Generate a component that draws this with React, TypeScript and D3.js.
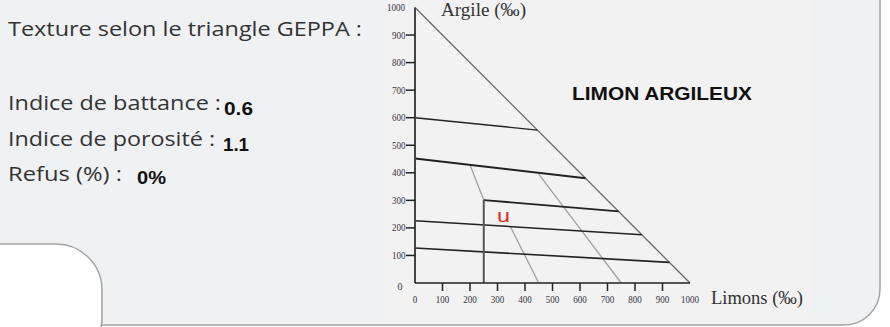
import React from "react";
import * as d3 from "d3";

// ---- data ----
const axisTicks = [0, 100, 200, 300, 400, 500, 600, 700, 800, 900, 1000];
// texture-class boundary lines, points as [limons ‰, argile ‰]
const lineA600: [number, number][] = [[0, 600], [445, 555]];
const lineA450: [number, number][] = [[0, 452], [620, 380]];
const lineA300: [number, number][] = [[250, 301], [740, 260]];
const lineA225: [number, number][] = [[0, 226], [825, 175]];
const lineA127: [number, number][] = [[0, 127], [925, 75]];
const lineL250: [number, number][] = [[250, 0], [250, 301]];
const diagUpper: [number, number][] = [[200, 429], [250, 301]];
const diagMid: [number, number][] = [[450, 395], [750, 0]];
const diagLow: [number, number][] = [[347, 204], [450, 0]];
const hypotenuse: [number, number][] = [[0, 1000], [1000, 0]];
const sampleLabel = "u";
const samplePos: [number, number] = [322, 222];
const textureClass = "LIMON ARGILEUX";
const infoLabels = ["Indice de battance :", "Indice de porosité :", "Refus (%) :"];
const infoValues = ["0.6", "1.1", "0%"];

export default function App() {
  const W = 890, H = 327;
  const x = d3.scaleLinear().domain([0, 1000]).range([415, 690]);
  const y = d3.scaleLinear().domain([0, 1000]).range([283, 7.5]);
  const line = d3.line<[number, number]>().x(d => x(d[0])).y(d => y(d[1]));

  const dark = [
    { d: lineA600, w: 1.4 },
    { d: lineA450, w: 2 },
    { d: lineA300, w: 1.8 },
    { d: lineA225, w: 1.5 },
    { d: lineA127, w: 1.6 },
  ];
  const grays = [diagUpper, diagMid, diagLow];

  const sans = "'Open Sans', sans-serif";
  const serif = "'Liberation Serif', serif";
  const labelLens = [213, 207, 114];
  const valueXs = [224, 223, 137];
  const valueLens = [29, 26, 29];
  const labelBaselines = [110, 146, 181];
  const valueBaselines = [115, 151, 184];
  const tickLen = (t: number) => (t >= 1000 ? 18 : t >= 100 ? 13.5 : 4.5);

  return (
    <svg width={W} height={H} style={{ position: "absolute", left: 0, top: 0, display: "block" }}>
      <rect x={0} y={0} width={W} height={H} fill="#ffffff" />
      <rect x={-40} y={-40} width={920} height={365} rx={36} ry={36} fill="#f0f1f3" stroke="#a3a3a3" strokeWidth={1.5} />
      <rect x={383} y={0} width={428} height={318} fill="#f2f2f2" />
      <rect x={-60} y={244} width={162} height={120} rx={46} ry={46} fill="#ffffff" stroke="#a3a3a3" strokeWidth={1.5} />

      {/* left info text */}
      <text x={8} y={36} fontFamily={sans} fontSize={20.5} fill="#333" textLength={354} lengthAdjust="spacingAndGlyphs">Texture selon le triangle GEPPA :</text>
      {infoLabels.map((t, i) => (
        <text key={t} x={8} y={labelBaselines[i]} fontFamily={sans} fontSize={20.5} fill="#333" textLength={labelLens[i]} lengthAdjust="spacingAndGlyphs">{t}</text>
      ))}
      {infoValues.map((t, i) => (
        <text key={i} x={valueXs[i]} y={valueBaselines[i]} fontFamily="'Liberation Sans', Arial, sans-serif" fontWeight="bold" fontSize={18} fill="#111" textLength={valueLens[i]} lengthAdjust="spacingAndGlyphs">{t}</text>
      ))}

      {/* triangle */}
      <path d={line(hypotenuse) || ""} stroke="#666" strokeWidth={1.3} fill="none" />
      {grays.map((g, i) => (
        <path key={i} d={line(g) || ""} stroke="#a0a0a0" strokeWidth={1.3} fill="none" />
      ))}
      {dark.map((l, i) => (
        <path key={i} d={line(l.d) || ""} stroke="#222" strokeWidth={l.w} fill="none" />
      ))}
      <path d={line(lineL250) || ""} stroke="#555" strokeWidth={2} fill="none" />

      {/* axes */}
      <line x1={x(0)} x2={x(0)} y1={y(0)} y2={y(1000)} stroke="#444" strokeWidth={2} />
      <line x1={x(0)} x2={x(1000)} y1={y(0)} y2={y(0)} stroke="#222" strokeWidth={1.6} />
      {axisTicks.filter(t => t > 0 && t < 1000).map(t => (
        <line key={"yt" + t} x1={x(0) - 9} x2={x(0)} y1={y(t)} y2={y(t)} stroke="#222" strokeWidth={1.5} />
      ))}
      {axisTicks.filter(t => t > 0 && t < 1000).map(t => (
        <line key={"xt" + t} x1={x(t)} x2={x(t)} y1={y(0)} y2={y(0) + 8} stroke="#222" strokeWidth={1.5} />
      ))}
      {axisTicks.filter(t => t > 0).map(t => (
        <text key={"yl" + t} x={x(0) - 23 + (t >= 1000 ? -5 : 0)} y={y(t) + 3.5} fontFamily={serif} fontSize={10} fill="#334" textLength={tickLen(t)} lengthAdjust="spacingAndGlyphs">{t}</text>
      ))}
      <text x={400} y={290} textAnchor="middle" fontFamily={serif} fontSize={10} fill="#334">0</text>
      {axisTicks.map(t => (
        <text key={"xl" + t} x={x(t) - tickLen(t) / 2} y={303} fontFamily={serif} fontSize={10} fill="#334" textLength={tickLen(t)} lengthAdjust="spacingAndGlyphs">{t}</text>
      ))}
      <text x={441} y={16} fontFamily={serif} fontSize={18} fill="#333" textLength={85} lengthAdjust="spacingAndGlyphs">Argile  (‰)</text>
      <text x={711} y={304} fontFamily={serif} fontSize={18} fill="#333" textLength={92} lengthAdjust="spacingAndGlyphs">Limons (‰)</text>

      {/* class name and sample */}
      <text x={572} y={100} fontFamily="'Liberation Sans', Arial, sans-serif" fontWeight="bold" fontSize={18} fill="#111" textLength={180} lengthAdjust="spacingAndGlyphs">{textureClass}</text>
      <text x={x(samplePos[0])} y={y(samplePos[1])} textAnchor="middle" fontFamily="'Liberation Sans', Arial, sans-serif" fontSize={18} fill="#e8262a" textLength={13} lengthAdjust="spacingAndGlyphs">{sampleLabel}</text>
    </svg>
  );
}
